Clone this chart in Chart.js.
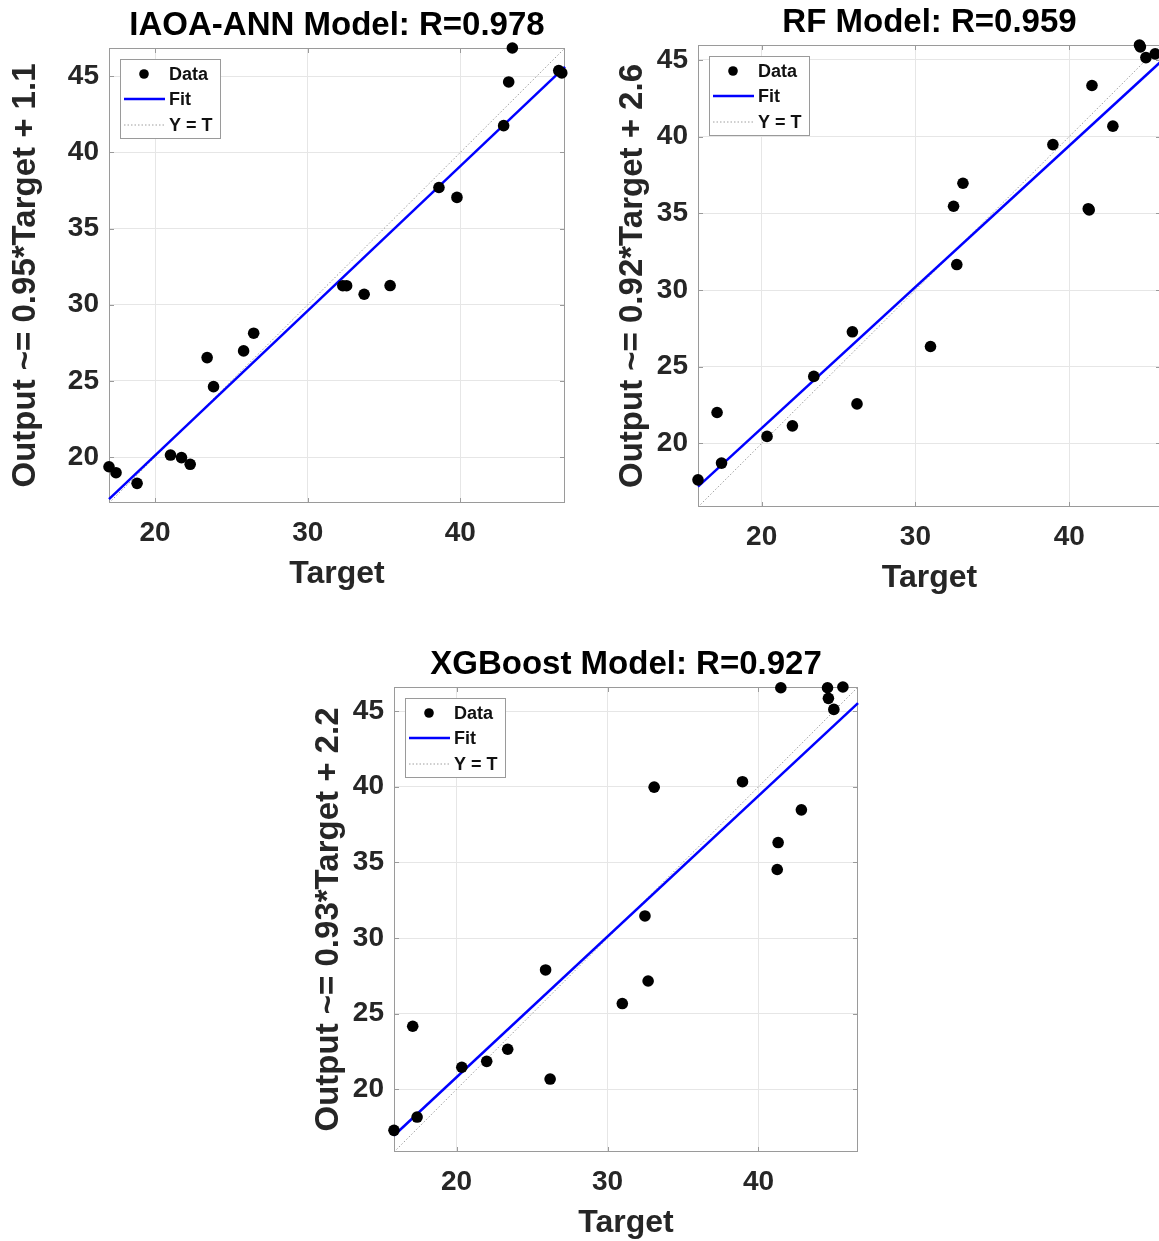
<!DOCTYPE html>
<html>
<head>
<meta charset="utf-8">
<title>Regression plots</title>
<script src="https://cdn.jsdelivr.net/npm/chart.js@4.4.1/dist/chart.umd.min.js"></script>
<style>
  html, body { margin: 0; padding: 0; background: #ffffff; overflow: hidden; width: 1159px; height: 1241px; }
  canvas { position: absolute; display: block; }
</style>
</head>
<body>
<canvas id="annChart"></canvas>
<canvas id="rfChart"></canvas>
<canvas id="xgbChart"></canvas>
<script>
// ---- data ----
const modelNames   = ['IAOA-ANN', 'RF', 'XGBoost'];
const rValues      = ['0.978', '0.959', '0.927'];
const fitSlopes    = [0.95, 0.92, 0.93];
const fitIntercepts = [1.1, 2.6, 2.2];

// IAOA-ANN test set
const annTargets = [16.98, 17.44, 18.82, 21.01, 21.73, 22.30, 23.41, 23.83, 25.80, 26.46, 32.30,
                    32.55, 33.70, 35.40, 38.60, 39.78, 42.84, 43.17, 43.41, 46.45, 46.65];
const annOutputs = [19.36, 18.97, 18.27, 20.13, 19.96, 19.52, 26.53, 24.62, 26.97, 28.13, 31.25,
                    31.25, 30.69, 31.26, 37.70, 37.05, 41.76, 44.63, 46.86, 45.38, 45.22];

// RF / XGBoost test set
const treeTargets = [15.86, 17.10, 17.39, 20.35, 22.00, 23.39, 25.90, 26.20, 30.98, 32.48, 32.69,
                     33.09, 38.94, 41.24, 41.30, 41.48, 42.84, 44.57, 44.63, 44.99, 45.59];
const rfOutputs   = [17.63, 22.02, 18.72, 20.46, 21.15, 24.37, 27.28, 22.58, 26.32, 35.46, 31.66,
                     36.96, 39.48, 35.30, 35.22, 43.33, 40.68, 45.97, 45.85, 45.15, 45.39];
const xgbOutputs  = [17.29, 24.17, 18.17, 21.46, 21.85, 22.65, 27.89, 20.68, 25.67, 31.46, 27.16,
                     39.97, 40.33, 34.53, 36.31, 46.54, 38.47, 46.54, 45.84, 45.11, 46.59];

const xTickValues  = [20, 30, 40];
const yTickValues  = [20, 25, 30, 35, 40, 45];
const legendLabels = ['Data', 'Fit', 'Y = T'];

// ---- styling / layout ----
const FONT = "'Liberation Sans', Arial, Helvetica, sans-serif";
const TEXT = '#262626';
const GRID = '#e6e6e6';
const FRAME = '#9a9a9a';

// canvas placement: left/top of canvas, y-axis band width, plot size, y-title centre
const panels = [
  { id: 'annChart', left: 0,   top: 0,   yBand: 109, plotW: 456, plotH: 455, yTitleCenter: 26 },
  { id: 'rfChart',  left: 600, top: -3,  yBand: 98,  plotW: 463, plotH: 462, yTitleCenter: 33 },
  { id: 'xgbChart', left: 290, top: 639, yBand: 104, plotW: 464, plotH: 465, yTitleCenter: 39 }
];
const TITLE_BAND = 48, X_BAND = 90, RIGHT_PAD = 10;
const TITLE_SIZE = 33, XLABEL_SIZE = 32, YLABEL_SIZE = 33, TICK_SIZE = 28, LEGEND_SIZE = 18;

// box frame with inward tick marks, drawn beneath the data
const axesFramePlugin = {
  id: 'axesFrame',
  beforeDatasetsDraw(chart) {
    const { ctx, chartArea: a, scales: { x, y } } = chart;
    const len = 5;
    ctx.save();
    ctx.strokeStyle = FRAME;
    ctx.lineWidth = 1;
    ctx.strokeRect(Math.round(a.left) + 0.5, Math.round(a.top) + 0.5,
                   Math.round(a.width) - 1, Math.round(a.height) - 1);
    ctx.beginPath();
    x.ticks.forEach(t => {
      const px = Math.round(x.getPixelForValue(t.value)) + 0.5;
      ctx.moveTo(px, a.bottom); ctx.lineTo(px, a.bottom - len);
      ctx.moveTo(px, a.top);    ctx.lineTo(px, a.top + len);
    });
    y.ticks.forEach(t => {
      const py = Math.round(y.getPixelForValue(t.value)) + 0.5;
      ctx.moveTo(a.left, py);  ctx.lineTo(a.left + len, py);
      ctx.moveTo(a.right, py); ctx.lineTo(a.right - len, py);
    });
    ctx.stroke();
    ctx.restore();
  }
};

// legend box in the upper-left corner of the plot area
const boxLegendPlugin = {
  id: 'boxLegend',
  afterDatasetsDraw(chart) {
    const { ctx, chartArea: a } = chart;
    const x0 = Math.round(a.left) + 11, y0 = Math.round(a.top) + 11;
    const w = 100, h = 79;
    const rows = [15, 40, 66];
    ctx.save();
    ctx.fillStyle = '#ffffff';
    ctx.fillRect(x0, y0, w, h);
    ctx.strokeStyle = FRAME;
    ctx.lineWidth = 1;
    ctx.strokeRect(x0 + 0.5, y0 + 0.5, w, h);
    chart.data.datasets.forEach((ds, i) => {
      const cy = y0 + rows[i];
      if (!ds.showLine) {
        ctx.fillStyle = ds.backgroundColor;
        ctx.beginPath();
        ctx.arc(x0 + 24, cy, 4.8, 0, Math.PI * 2);
        ctx.fill();
      } else {
        ctx.strokeStyle = ds.borderColor;
        ctx.lineWidth = ds.borderWidth;
        ctx.setLineDash(ds.borderDash || []);
        ctx.beginPath();
        ctx.moveTo(x0 + 4, cy);
        ctx.lineTo(x0 + 45, cy);
        ctx.stroke();
        ctx.setLineDash([]);
      }
      ctx.fillStyle = '#111111';
      ctx.font = 'bold ' + LEGEND_SIZE + 'px ' + FONT;
      ctx.textAlign = 'left';
      ctx.textBaseline = 'middle';
      ctx.fillText(ds.label, x0 + 49, cy + 1);
    });
    ctx.restore();
  }
};

function fmt(v) { return String(v); }

function makePanel(p, targets, outputs, slope, intercept, name, r) {
  const canvas = document.getElementById(p.id);
  const W = p.yBand + p.plotW + RIGHT_PAD;
  const H = TITLE_BAND + p.plotH + X_BAND;
  canvas.width = W; canvas.height = H;
  canvas.style.width = W + 'px'; canvas.style.height = H + 'px';
  canvas.style.left = p.left + 'px'; canvas.style.top = p.top + 'px';

  // common limits for both axes, as in a regression plot
  const lo = Math.min(Math.min(...targets), Math.min(...outputs));
  const hi = Math.max(Math.max(...targets), Math.max(...outputs));
  const scatter = targets.map((t, i) => ({ x: t, y: outputs[i] }));
  const fitLine = [lo, hi].map(t => ({ x: t, y: slope * t + intercept }));
  const identity = [lo, hi].map(t => ({ x: t, y: t }));

  const tickSetter = vals => scale => {
    scale.ticks = vals.filter(v => v >= scale.min && v <= scale.max).map(v => ({ value: v }));
  };
  const titleGap = (TITLE_BAND - TITLE_SIZE * 1.2) / 2;

  return new Chart(canvas, {
    type: 'scatter',
    data: {
      datasets: [
        { label: legendLabels[0], data: scatter, showLine: false,
          backgroundColor: '#000000', borderColor: '#000000',
          pointRadius: 5.8, pointBorderWidth: 0, clip: false },
        { label: legendLabels[1], data: fitLine, showLine: true,
          borderColor: '#0000ff', borderWidth: 2.5, pointRadius: 0, clip: false },
        { label: legendLabels[2], data: identity, showLine: true,
          borderColor: '#9e9e9e', borderWidth: 1, borderDash: [1.5, 2], pointRadius: 0, clip: false }
      ]
    },
    options: {
      responsive: false,
      animation: false,
      events: [],
      layout: { padding: { left: 0, top: 0, right: RIGHT_PAD, bottom: 0 } },
      plugins: {
        legend: { display: false },
        tooltip: { enabled: false },
        title: {
          display: true,
          fullSize: false,
          text: name + ' Model: R=' + r,
          color: '#000000',
          font: { family: FONT, size: TITLE_SIZE, weight: 'bold', lineHeight: 1.2 },
          padding: { top: titleGap + 2, bottom: titleGap - 2 }
        }
      },
      scales: {
        x: {
          type: 'linear', min: lo, max: hi,
          afterBuildTicks: tickSetter(xTickValues),
          afterFit: s => { s.height = X_BAND; },
          grid: { color: GRID, lineWidth: 1, drawTicks: false },
          border: { display: false },
          ticks: { color: TEXT, padding: 13, maxRotation: 0, includeBounds: false,
                   font: { family: FONT, size: TICK_SIZE, weight: 'bold', lineHeight: 1.2 } },
          title: { display: true, text: 'Target', color: TEXT,
                   padding: { top: 0, bottom: 0 },
                   font: { family: FONT, size: XLABEL_SIZE, weight: 'bold', lineHeight: 1.2 } }
        },
        y: {
          type: 'linear', min: lo, max: hi,
          afterBuildTicks: tickSetter(yTickValues),
          afterFit: s => { s.width = p.yBand; },
          grid: { color: GRID, lineWidth: 1, drawTicks: false },
          border: { display: false },
          ticks: { color: TEXT, padding: 10, includeBounds: false,
                   font: { family: FONT, size: TICK_SIZE, weight: 'bold', lineHeight: 1.2 } },
          title: { display: true,
                   text: 'Output ~= ' + fmt(slope) + '*Target + ' + fmt(intercept),
                   color: TEXT,
                   padding: { top: p.yTitleCenter - YLABEL_SIZE * 0.6, bottom: 0 },
                   font: { family: FONT, size: YLABEL_SIZE, weight: 'bold', lineHeight: 1.2 } }
        }
      }
    },
    plugins: [axesFramePlugin, boxLegendPlugin]
  });
}

makePanel(panels[0], annTargets,  annOutputs, fitSlopes[0], fitIntercepts[0], modelNames[0], rValues[0]);
makePanel(panels[1], treeTargets, rfOutputs,  fitSlopes[1], fitIntercepts[1], modelNames[1], rValues[1]);
makePanel(panels[2], treeTargets, xgbOutputs, fitSlopes[2], fitIntercepts[2], modelNames[2], rValues[2]);
</script>
</body>
</html>
